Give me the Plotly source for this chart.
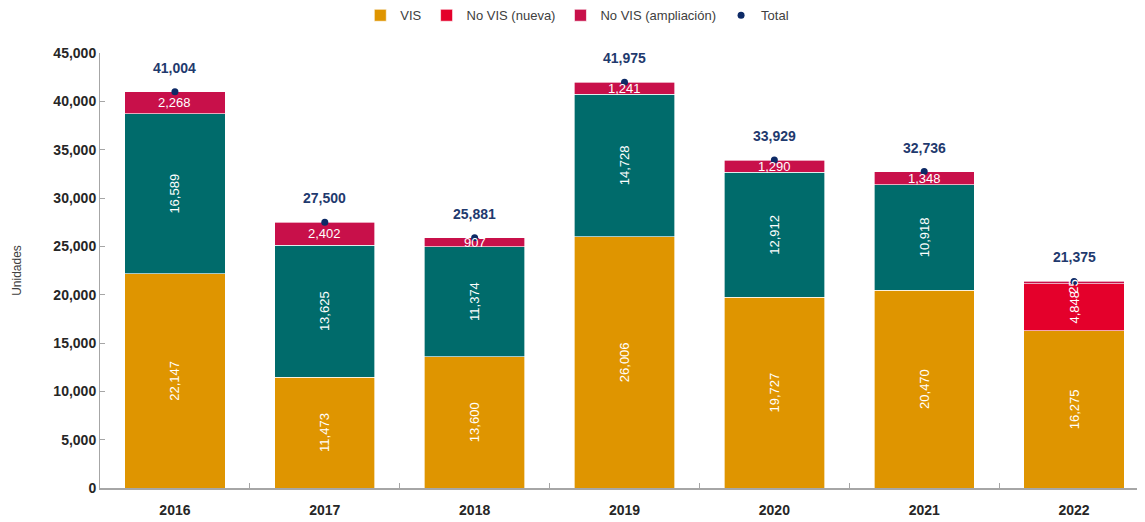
import plotly.graph_objects as go

years = ["2016", "2017", "2018", "2019", "2020", "2021", "2022"]
vis = [22147, 11473, 13600, 26006, 19727, 20470, 16275]
no_vis = [16589, 13625, 11374, 14728, 12912, 10918, None]
no_vis_nueva = [None, None, None, None, None, None, 4848]
no_vis_ampliacion = [2268, 2402, 907, 1241, 1290, 1348, 252]
total = [41004, 27500, 25881, 41975, 33929, 32736, 21375]

FONT = "Liberation Sans Narrow, Arial Narrow, Liberation Sans, sans-serif"
C_VIS = "#DF9500"
C_TEAL = "#006B6B"
C_NUEVA = "#E4002B"
C_AMPL = "#C8104A"
C_NAVY = "#1F3A6E"


def fmt(v):
    return "" if v is None else f"{v:,}"


fig = go.Figure()

bar_line = {"color": "rgba(255,255,255,0.8)", "width": 0.8}
inner_font = {"family": FONT, "size": 13, "color": "white"}

fig.add_trace(go.Bar(
    x=years, y=vis, name="VIS",
    marker={"color": C_VIS, "line": bar_line},
    text=[fmt(v) for v in vis], textposition="inside", insidetextanchor="middle",
    textangle=-90, constraintext="none", insidetextfont=inner_font,
))
fig.add_trace(go.Bar(
    x=years, y=no_vis, name="No VIS", showlegend=False,
    marker={"color": C_TEAL, "line": bar_line},
    text=[fmt(v) for v in no_vis], textposition="inside", insidetextanchor="middle",
    textangle=-90, constraintext="none", insidetextfont=inner_font,
))
fig.add_trace(go.Bar(
    x=years, y=no_vis_nueva, name="No VIS (nueva)",
    marker={"color": C_NUEVA, "line": bar_line},
    text=[fmt(v) for v in no_vis_nueva], textposition="inside", insidetextanchor="middle",
    textangle=-90, constraintext="none", insidetextfont=inner_font,
))
fig.add_trace(go.Bar(
    x=years, y=no_vis_ampliacion, name="No VIS (ampliación)",
    marker={"color": C_AMPL, "line": bar_line},
    textposition="none",
))

# labels for the thin top segments (category index as x)
for i in range(len(years)):
    base = (vis[i] or 0) + (no_vis[i] or 0) + (no_vis_nueva[i] or 0)
    v = no_vis_ampliacion[i]
    fig.add_annotation(
        x=i, y=base + v / 2, text=fmt(v), showarrow=False,
        textangle=-90 if no_vis_nueva[i] else 0,
        font=inner_font,
    )

fig.add_trace(go.Scatter(
    x=years, y=total, name="Total", mode="markers",
    marker={"color": "#0D2A66", "size": 7},
))
for i, t in enumerate(total):
    fig.add_annotation(
        x=i, y=t, text=f"<b>{t:,}</b>", showarrow=False, yshift=24,
        font={"family": FONT, "size": 14, "color": C_NAVY},
    )

fig.update_layout(
    barmode="stack",
    bargap=0.33,
    width=1145,
    height=522,
    margin={"l": 92, "r": 4, "t": 45, "b": 42},
    plot_bgcolor="white",
    paper_bgcolor="white",
    font={"family": FONT, "size": 13, "color": "#262626"},
    legend={
        "orientation": "h", "x": 0.455, "xanchor": "center",
        "yref": "container", "y": 0.986, "yanchor": "middle",
        "font": {"family": FONT, "size": 13, "color": "#404040"},
        "traceorder": "normal", "itemwidth": 30,
    },
    showlegend=True,
)
fig.update_xaxes(
    type="category", range=[-0.5, 6.5], showline=True, linecolor="#A6A6A6", linewidth=1.5,
    ticks="inside", tickson="boundaries", ticklen=5, tickcolor="#A6A6A6",
    tickfont={"family": FONT, "size": 14, "color": "#262626", "weight": "bold"},
    ticklabelstandoff=8,
    showgrid=False, automargin=False,
)
fig.update_yaxes(
    range=[0, 45000], dtick=5000, tickformat=",", showline=True, linecolor="#A6A6A6",
    ticks="inside", ticklen=5, tickcolor="#A6A6A6", showgrid=False, zeroline=False,
    tickfont={"family": FONT, "size": 14, "color": "#262626", "weight": "bold"},
    title={"text": "Unidades", "font": {"family": FONT, "size": 12, "color": "#404040"}, "standoff": 29},
    automargin=False,
)

fig.write_html("out.html")
